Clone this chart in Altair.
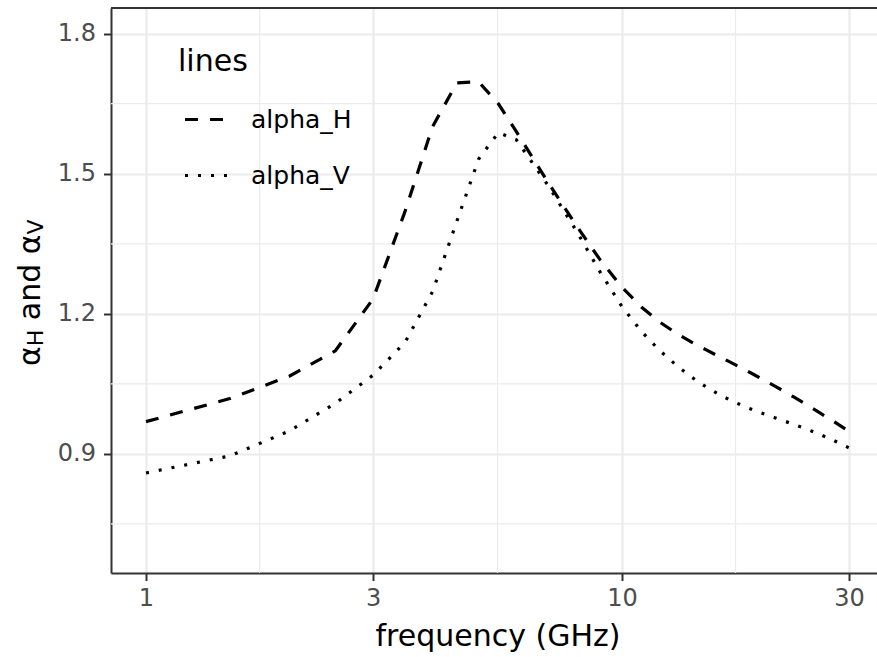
import altair as alt
import pandas as pd

# Specific attenuation coefficients (rain model), horizontal and vertical polarisation
freq = [1, 1.5, 2, 2.5, 3, 3.5, 4, 4.5, 5, 5.5, 6, 7, 8, 9, 10,
        11, 12, 13, 14, 15, 16, 17, 18, 19, 20,
        21, 22, 23, 24, 25, 26, 27, 28, 29, 30]
alpha_H = [0.9691, 1.0185, 1.0664, 1.1209, 1.2322, 1.4189, 1.6009, 1.6948, 1.6969, 1.6499, 1.5900,
           1.4810, 1.3905, 1.3155, 1.2571,
           1.2140, 1.1825, 1.1586, 1.1396, 1.1233, 1.1086, 1.0949, 1.0818, 1.0691, 1.0568,
           1.0447, 1.0329, 1.0214, 1.0101, 0.9991, 0.9884, 0.9780, 0.9679, 0.9580, 0.9485]
alpha_V = [0.8592, 0.8957, 0.9490, 1.0085, 1.0688, 1.1387, 1.2476, 1.3987, 1.5317, 1.5882, 1.5728,
           1.4745, 1.3797, 1.2895, 1.2156,
           1.1617, 1.1216, 1.0901, 1.0646, 1.0440, 1.0273, 1.0137, 1.0025, 0.9930, 0.9847,
           0.9771, 0.9700, 0.9630, 0.9561, 0.9491, 0.9421, 0.9349, 0.9277, 0.9203, 0.9129]
series = ["alpha_H", "alpha_V"]

x_ticks = [1, 3, 10, 30]
x_minor = [1.7321, 5.4772, 17.3205]
y_ticks = [0.9, 1.2, 1.5, 1.8]
y_minor = [0.75, 1.05, 1.35, 1.65]

FONT = "DejaVu Sans"
W, H = 766, 565

df = pd.DataFrame({
    "freq": freq * 2,
    "value": alpha_H + alpha_V,
    "lines": [series[0]] * len(freq) + [series[1]] * len(freq),
})

xscale = alt.Scale(type="log", domain=[0.8443, 34.34], nice=False)
yscale = alt.Scale(domain=[0.645, 1.855], nice=False, zero=False)

x_axis = alt.Axis(
    values=x_ticks, format="~g", title="frequency (GHz)",
    titleFont=FONT, titleFontSize=30, titleFontWeight="normal", titleColor="black",
    titleX=386.5, titleY=72, titleBaseline="alphabetic", titleAlign="center",
    labelFont=FONT, labelFontSize=24, labelColor="#4D4D4D", labelPadding=6, labelFlush=False,
    tickColor="#333333", tickWidth=2, tickSize=7.5,
    domainColor="#333333", domainWidth=2,
    grid=True, gridColor="#EBEBEB", gridWidth=2.2,
)
y_axis = alt.Axis(
    values=y_ticks, format=".1f", title=None,
    labelFont=FONT, labelFontSize=24, labelColor="#4D4D4D", labelPadding=8,
    tickColor="#333333", tickWidth=2, tickSize=7.5,
    domainColor="#333333", domainWidth=2,
    grid=True, gridColor="#EBEBEB", gridWidth=2.2,
)

minor_v = alt.Chart(pd.DataFrame({"freq": x_minor})).mark_rule(
    color="#EBEBEB", strokeWidth=1.2
).encode(x=alt.X("freq:Q", scale=xscale, axis=x_axis))

minor_h = alt.Chart(pd.DataFrame({"value": y_minor})).mark_rule(
    color="#EBEBEB", strokeWidth=1.2
).encode(y=alt.Y("value:Q", scale=yscale, axis=y_axis))

lines = alt.Chart(df).mark_line(color="black", strokeWidth=3.2, strokeCap="butt").encode(
    x=alt.X("freq:Q", scale=xscale, axis=x_axis),
    y=alt.Y("value:Q", scale=yscale, axis=y_axis),
    strokeDash=alt.StrokeDash(
        "lines:N",
        scale=alt.Scale(domain=series, range=[[13, 12], [3, 10]]),
        legend=alt.Legend(
            orient="none", legendX=67, legendY=39, title="lines", padding=0,
            titleFont=FONT, titleFontSize=30, titleFontWeight="normal", titleColor="black",
            titlePadding=18,
            labelFont=FONT, labelFontSize=25, labelColor="black", labelOffset=19,
            symbolType="stroke", symbolSize=2025, symbolStrokeWidth=3.2,
            symbolStrokeColor="black", symbolOffset=5, rowPadding=18,
        ),
    ),
)

# top edge of the panel frame
top_edge = alt.Chart(pd.DataFrame({"k": [0]})).mark_rule(
    color="#333333", strokeWidth=2
).encode(x=alt.value(0), x2=alt.value(W), y=alt.value(0))

# y-axis title with subscripts: alpha_H and alpha_V
def piece(txt, x, y, size):
    return alt.Chart(pd.DataFrame({"t": [txt]})).mark_text(
        angle=270, align="left", baseline="alphabetic",
        font=FONT, fontSize=size, color="black"
    ).encode(x=alt.value(x), y=alt.value(y), text="t:N")

ytitle = (
    piece("α", -71, 358, 30)
    + piece("H", -68, 338.2, 22)
    + piece("and", -71, 312.2, 30)
    + piece("α", -71, 246.2, 30)
    + piece("V", -68, 226.4, 22)
)

chart = alt.layer(minor_v, minor_h, lines, top_edge, ytitle).properties(
    width=W, height=H,
    autosize=alt.AutoSizeParams(type="none"),
    padding={"left": 111, "top": 8, "right": 0, "bottom": 84},
).configure_view(stroke=None)

chart.save("out.html", embed_options={"renderer": "svg", "actions": False})
